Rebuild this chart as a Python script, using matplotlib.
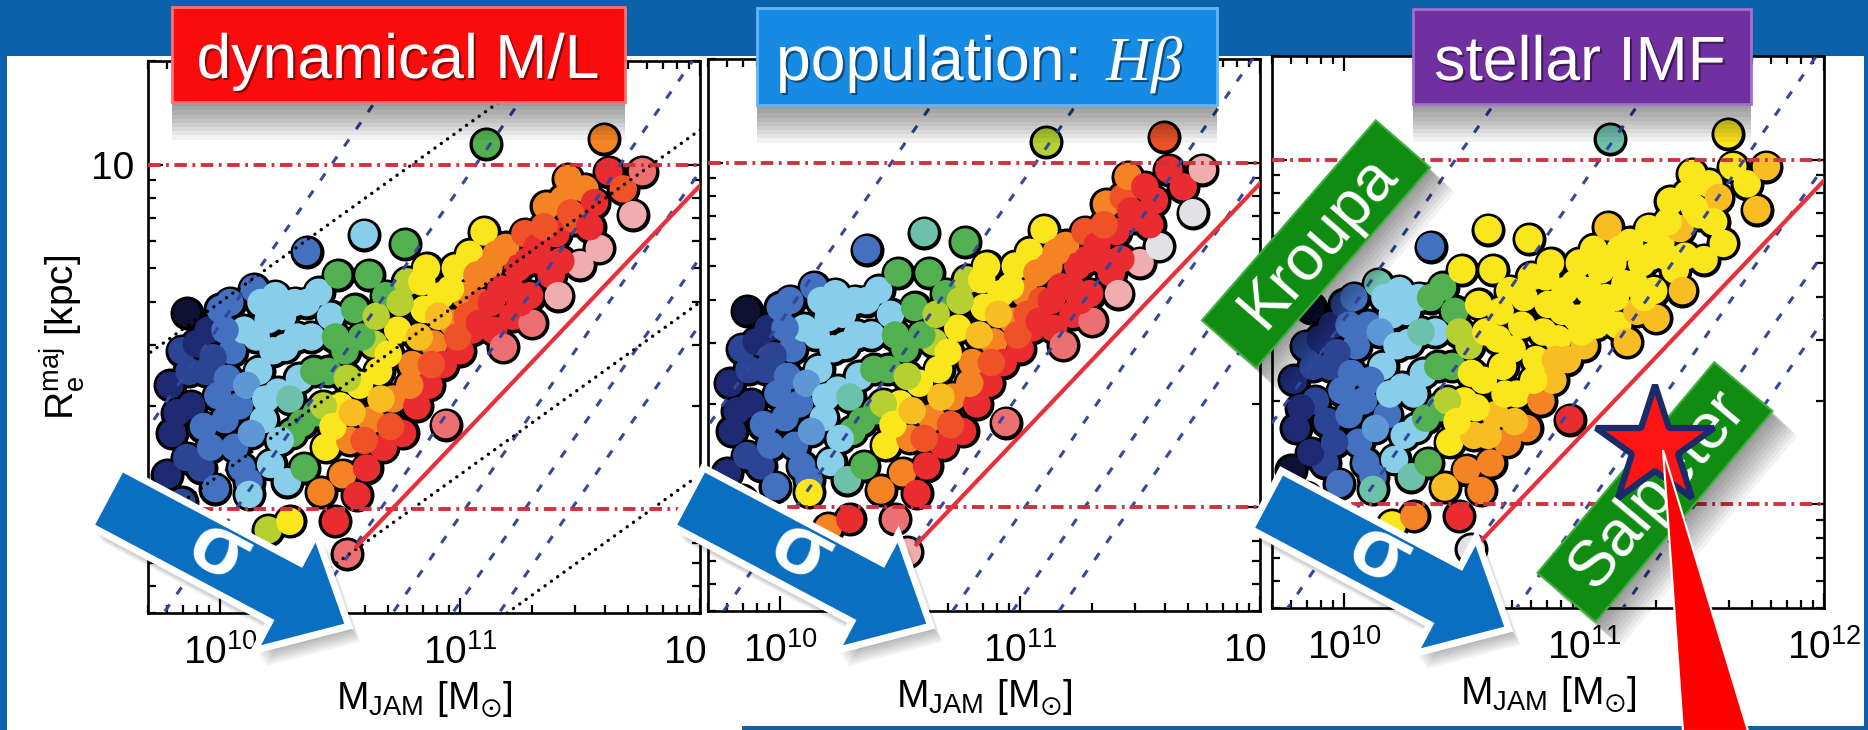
# ATLAS3D-style (M_JAM, R_e) plane, three panels + slide decorations
import numpy as np
import matplotlib
matplotlib.use("Agg")
import matplotlib.pyplot as plt
import matplotlib.patheffects as pe
from matplotlib.colors import LinearSegmentedColormap
from matplotlib.patches import Rectangle, Polygon
from matplotlib.ticker import FixedLocator, LogLocator, NullFormatter, FuncFormatter

plt.rcParams['font.family'] = ['Liberation Sans', 'DejaVu Sans']
plt.rcParams['lines.scale_dashes'] = False

# --------------------------------------------
# Galaxies: log10 M_JAM [Msun], log10 R_e^maj [kpc]
# --------------------------------------------
log_mass = [9.78, 9.80, 9.79, 9.84, 9.86, 9.84, 9.88, 9.92, 9.93, 9.94,
            9.95, 9.98, 9.99, 10.00, 10.04, 10.05, 10.06, 10.08, 10.10, 10.12,
            10.14, 10.16, 10.18, 10.20, 10.21, 10.23, 10.24, 10.27, 10.28, 10.30,
            10.31, 10.33, 10.35, 10.36, 10.38, 10.40, 10.41, 10.42, 10.44, 10.45,
            10.46, 10.49, 10.50, 10.51, 10.52, 10.54, 10.56, 10.57, 10.58, 10.60,
            10.61, 10.62, 10.63, 10.64, 10.66, 10.68, 10.69, 10.72, 10.74, 10.77,
            10.76, 10.78, 10.80, 10.82, 10.85, 10.86, 10.87, 10.89, 10.94, 10.92,
            10.93, 10.97, 10.98, 11.00, 11.02, 11.04, 11.05, 11.10, 11.11, 11.09,
            11.12, 11.14, 11.17, 11.19, 11.18, 11.22, 11.24, 11.27, 11.29, 11.30,
            11.32, 11.36, 11.38, 11.41, 11.40, 11.43, 11.45, 11.48, 11.50, 11.52,
            11.56, 11.58, 11.60, 11.62, 11.68, 11.72, 11.76, 10.12, 10.20, 10.29,
            10.48, 10.53,
            9.82, 9.87, 9.90, 9.86, 9.96, 9.97, 10.02, 10.03, 10.02, 10.09,
            10.11, 10.13, 10.15, 10.17, 10.19, 10.22, 10.25, 10.26, 10.29, 10.32,
            10.34, 10.36, 10.39, 10.43, 10.47, 10.48, 10.53, 10.55, 10.59, 10.60,
            10.65, 10.67, 10.70, 10.71, 10.75, 10.79, 10.83, 10.84, 10.88, 10.91,
            10.96, 10.99, 11.03, 11.07, 11.08, 11.13, 11.15, 11.21, 11.25, 11.28,
            11.34, 11.35, 11.42, 11.46, 11.54]
log_re = [0.10, 0.22, 0.36, 0.46, 0.57, 0.02, 0.30, 0.12, 0.24, 0.40,
          0.52, 0.06, 0.33, 0.58, 0.60, 0.46, 0.18, 0.30, 0.52, 0.08,
          0.64, 0.40, 0.26, 0.55, 0.13, 0.62, 0.34, 0.47, 0.08, 0.22,
          0.60, 0.38, 0.12, 0.748, 0.50, 0.28, 0.63, 0.05, 0.18, 0.40,
          0.56, 0.68, 0.30, 0.10, 0.46, 0.20, 0.58, 0.04, 0.36, 0.797,
          0.12, 0.68, 0.26, 0.48, 0.40, 0.18, 0.62, 0.32, 0.52, 0.77,
          0.22, 0.66, 0.42, 0.30, 0.58, 0.70, 0.36, 0.48, 0.246, 0.62,
          0.42, 0.54, 0.70, 0.46, 0.62, 0.74, 0.52, 0.805, 1.06, 0.60,
          0.70, 0.52, 0.64, 0.76, 0.47, 0.56, 0.70, 0.80, 0.62, 0.54,
          0.76, 0.88, 0.68, 0.62, 0.80, 0.90, 0.96, 0.84, 0.71, 0.93,
          0.89, 0.757, 1.075, 0.98, 0.93, 0.855, 0.98, 0.043, -0.06, -0.035,
          -0.035, -0.13,
          0.28, 0.40, 0.48, 0.15, 0.18, 0.44, 0.26, 0.38, 0.52, 0.12,
          0.36, 0.22, 0.50, 0.60, 0.32, 0.46, 0.20, 0.56, 0.32, 0.50,
          0.25, 0.60, 0.40, 0.30, 0.24, 0.50, 0.38, 0.28, 0.50, 0.20,
          0.56, 0.32, 0.45, 0.24, 0.60, 0.36, 0.50, 0.66, 0.42, 0.56,
          0.64, 0.50, 0.56, 0.68, 0.54, 0.60, 0.74, 0.64, 0.60, 0.72,
          0.72, 0.82, 0.72, 0.86, 0.82]

# colour-scale values (0..1)
ml_colour = [.09, .09, .09, .16, .02, .16, .09, .16, .24, .16,
             .09, .24, .24, .24, .24, .24, .24, .24, .36, .24,
             .24, .36, .36, .36, .36, .36, .36, .36, .36, .46,
             .36, .36, .46, .24, .36, .46, .36, .72, .61, .46,
             .36, .46, .61, .72, .46, .72, .46, .84, .61, .36,
             .84, .46, .72, .54, .61, .84, .46, .72, .61, .46,
             .84, .54, .72, .84, .61, .61, .84, .72, .90, .61,
             .84, .72, .61, .84, .72, .61, .84, .61, .46, .78,
             .72, .84, .84, .72, .90, .84, .84, .78, .84, .90,
             .84, .72, .84, .95, .84, .72, .72, .78, .95, .72,
             .84, .95, .72, .84, .78, .95, .90, .36, .54, .61,
             .84, .90,
             .09, .16, .09, .16, .24, .16, .24, .24, .24, .24,
             .30, .30, .36, .36, .36, .36, .36, .36, .41, .36,
             .46, .36, .46, .54, .61, .46, .54, .66, .46, .78,
             .54, .66, .61, .78, .54, .72, .66, .61, .78, .66,
             .61, .78, .78, .72, .84, .84, .72, .84, .84, .84,
             .84, .78, .84, .78, .84]
hbeta_colour = [.09, .09, .09, .16, .02, .16, .09, .16, .24, .16,
                .09, .24, .24, .24, .24, .24, .24, .24, .36, .24,
                .24, .36, .36, .36, .36, .36, .36, .36, .41, .46,
                .36, .36, .46, .24, .36, .46, .36, .72, .61, .46,
                .36, .46, .61, .72, .46, .72, .46, .84, .61, .41,
                .84, .46, .72, .54, .61, .84, .46, .72, .61, .46,
                .84, .54, .72, .84, .61, .61, .84, .72, .90, .61,
                .84, .72, .61, .84, .72, .61, .84, .61, .54, .78,
                .72, .84, .84, .72, .90, .84, .84, .78, .84, .90,
                .84, .72, .84, .95, .84, .78, .72, .84, .95, .84,
                .84, 1.0, .78, .84, .84, 1.0, .95, .61, .72, .84,
                .90, .95,
                .09, .16, .09, .16, .24, .16, .24, .24, .24, .24,
                .30, .30, .36, .36, .36, .36, .36, .36, .41, .36,
                .46, .36, .46, .54, .61, .46, .54, .66, .46, .78,
                .54, .66, .61, .78, .54, .72, .66, .61, .78, .66,
                .61, .78, .78, .72, .84, .84, .72, .84, .84, .84,
                .84, .78, .84, .84, .84]
imf_colour = [.02, .09, .09, .16, .02, .09, .16, .16, .16, .16,
              .09, .24, .24, .16, .24, .24, .24, .24, .24, .24,
              .41, .36, .24, .36, .36, .36, .36, .36, .41, .36,
              .36, .36, .46, .24, .36, .46, .46, .66, .61, .46,
              .46, .61, .61, .72, .54, .66, .61, .72, .61, .61,
              .72, .61, .66, .61, .61, .72, .61, .61, .61, .61,
              .72, .61, .61, .72, .61, .61, .66, .61, .84, .61,
              .66, .61, .61, .66, .61, .61, .61, .66, .41, .61,
              .61, .61, .61, .61, .66, .66, .61, .61, .61, .66,
              .61, .61, .61, .66, .66, .61, .61, .61, .61, .61,
              .66, .61, .61, .61, .61, .66, .66, .41, .61, .72,
              .84, 1.0,
              .09, .16, .09, .09, .16, .16, .24, .24, .24, .24,
              .24, .30, .30, .36, .36, .36, .36, .36, .36, .41,
              .46, .46, .46, .54, .61, .54, .61, .61, .61, .66,
              .61, .61, .61, .66, .61, .61, .61, .61, .66, .61,
              .61, .61, .61, .61, .61, .61, .61, .61, .61, .61,
              .61, .61, .61, .61, .61]
panel_colours = [ml_colour, hbeta_colour, imf_colour]

# reference lines
sigma_lines = [50, 100, 200, 300, 400, 500]        # km/s, M = 5 R sigma^2 / G
surf_lines = [1e8, 1e9, 1e10, 1e11]                # Msun/kpc^2, M = 2 pi Sigma R^2
zoe_mass = [3.7e10, 1e12]                          # zone of exclusion
zoe_re = [0.78, 8.7]
re_levels = [1, 10]
G = 4.3009e-6                                      # kpc (km/s)^2 / Msun

cmap = LinearSegmentedColormap.from_list('sauron_like', [
    (0.00, '#0a0a20'), (0.09, '#1d2a72'), (0.16, '#2c4696'), (0.24, '#4470c0'),
    (0.30, '#5f98d6'), (0.36, '#88cdea'), (0.41, '#6cc0a8'), (0.46, '#52b04e'),
    (0.54, '#b4d030'), (0.61, '#fae81c'), (0.66, '#f8bc22'), (0.72, '#f48424'),
    (0.78, '#ee5226'), (0.84, '#e8282c'), (0.90, '#ec6e70'), (0.95, '#f0aaaa'),
    (1.00, '#e2e2e6')])

W, H = 1868, 730
BLUE = '#0b62ab'
fig = plt.figure(figsize=(W / 100, H / 100), dpi=100, facecolor=BLUE)


def pixel_axes(z):
    a = fig.add_axes([0, 0, 1, 1], zorder=z)
    a.set_xlim(0, W)
    a.set_ylim(H, 0)
    a.axis('off')
    return a


bg = pixel_axes(0)
bg.add_patch(Rectangle((7, 56), 1857, 680, color='white', lw=0))
bg.add_patch(Rectangle((742, 726), 1126, 4, color=BLUE, lw=0))

# --------------------------------------------
# Panels
# --------------------------------------------
panel_px = [(148, 61), (708, 59), (1272, 56)]
size = 552
mass = 10 ** np.array(log_mass)
re = 10 ** np.array(log_re)

for i, (x0, y0) in enumerate(panel_px):
    ax = fig.add_axes([x0 / W, 1 - (y0 + size) / H, size / W, size / H], zorder=1 + i)
    ax.set_xscale('log')
    ax.set_yscale('log')

    ax.scatter(mass, re, s=600, c='black', linewidths=0, zorder=2)
    ax.scatter(mass, re, s=390, c=panel_colours[i], cmap=cmap, vmin=0, vmax=1,
               linewidths=0, zorder=2.1)

    rr = np.array([0.1, 100.0])
    for sig in sigma_lines:
        ax.plot(5 * sig ** 2 * rr / G, rr, color='#34479a', lw=2.2,
                dashes=(6, 9), zorder=3)
    if i == 0:
        for sd in surf_lines:
            ax.plot(2 * np.pi * sd * rr ** 2, rr, color='black', lw=2.4,
                    dashes=(0.1, 5.5), dash_capstyle='round', zorder=3)
    for lev in re_levels:
        ax.axhline(lev, color='#d2303e', lw=2.8, dashes=(9, 4, 2, 4), zorder=3)
    ax.plot(zoe_mass, zoe_re, color='#e8303a', lw=3, zorder=3)

    ax.set_xlim(5e9, 1e12)
    ax.set_ylim(0.5, 20)
    ax.xaxis.set_major_locator(FixedLocator([1e10, 1e11, 1e12]))
    ax.xaxis.set_minor_locator(LogLocator(base=10, subs=np.arange(2, 10), numticks=20))
    ax.xaxis.set_major_formatter(FuncFormatter(
        lambda v, p: r'$\mathregular{10^{%d}}$' % round(np.log10(v))))
    ax.xaxis.set_minor_formatter(NullFormatter())
    ax.yaxis.set_major_locator(FixedLocator([1, 10]))
    ax.yaxis.set_minor_locator(LogLocator(base=10, subs=np.arange(2, 10), numticks=20))
    ax.yaxis.set_minor_formatter(NullFormatter())
    if i == 0:
        ax.yaxis.set_major_formatter(FuncFormatter(lambda v, p: '%d' % v))
        ax.set_ylabel(r'$\mathregular{R_e^{maj}}$ [kpc]', fontsize=28, labelpad=3)
    else:
        ax.yaxis.set_major_formatter(NullFormatter())
    ax.tick_params(which='both', direction='in', top=True, right=True,
                   width=1.6, labelsize=28, colors='black')
    ax.tick_params(which='major', length=11)
    ax.tick_params(which='minor', length=6)
    ax.tick_params(axis='x', pad=15)
    ax.tick_params(axis='y', pad=10)
    for sp in ax.spines.values():
        sp.set_linewidth(1.9)
    ax.set_xlabel(r'$\mathregular{M_{JAM}\ [M_{\odot}]}$', fontsize=28, labelpad=6)

    # the next panel hides the exponent of the last tick label
    if i < 2:
        cov = pixel_axes(1.5 + i)
        nx = panel_px[i + 1][0]
        cov.add_patch(Rectangle((nx - 3, 620), 38, 60, color='white', lw=0))

# --------------------------------------------
# Slide decorations
# --------------------------------------------
ov = pixel_axes(10)


def soft_shadow(dx, dy, n=9, alpha=0.05):
    return [pe.SimplePatchShadow(offset=(dx * k, -dy * k), shadow_rgbFace='black',
                                 alpha=alpha) for k in range(1, n + 1)] + [pe.Normal()]


text_fx = [pe.withSimplePatchShadow(offset=(1.5, -1.5), shadow_rgbFace='black', alpha=0.45)]

# title boxes
boxes = [(172, 7, 625, 102, '#fa0c0c', '#ff7070'),
         (757, 8, 1217, 105, '#178be4', '#62b6f4'),
         (1413, 9, 1751, 104, '#7030a0', '#a070cc')]
for x0, y0, x1, y1, fc, ec in boxes:
    ov.add_patch(Rectangle((x0, y0), x1 - x0, y1 - y0, fc=fc, ec=ec, lw=2,
                           path_effects=soft_shadow(0, 3)))
ov.text(398, 78, 'dynamical M/L', color='white', fontsize=45, ha='center',
        va='baseline', path_effects=text_fx)
ov.text(776, 80, 'population: ', color='white', fontsize=45, ha='left',
        va='baseline', path_effects=text_fx)
ov.text(1106, 80, 'H\u03b2', color='white', fontsize=45, ha='left', va='baseline',
        family=['Liberation Serif', 'DejaVu Serif'], style='italic', path_effects=text_fx)
ov.text(1580, 80, 'stellar IMF', color='white', fontsize=45, ha='center',
        va='baseline', path_effects=text_fx)


def rot_box(cx, cy, length, width, angle):
    a = np.radians(angle)
    u = np.array([np.cos(a), -np.sin(a)])
    v = np.array([np.sin(a), np.cos(a)])
    c = np.array([cx, cy])
    return [c - u * length / 2 - v * width / 2, c + u * length / 2 - v * width / 2,
            c + u * length / 2 + v * width / 2, c - u * length / 2 + v * width / 2]


# IMF labels
for cx, cy, ln, wd, ang, label in [(1316, 244, 265, 72, 49, 'Kroupa'),
                                   (1655, 492, 275, 76, 50, 'Salpeter')]:
    ov.add_patch(Polygon(rot_box(cx, cy, ln, wd, ang), closed=True, fc='#108c12',
                         ec='#3fae3f', lw=1.5, path_effects=soft_shadow(2, 2)))
    ov.text(cx + 3, cy - 2, label, color='white', fontsize=46, rotation=ang,
            rotation_mode='anchor', ha='center', va='center')


def block_arrow(tx, ty, angle, length, shaft_w, head_w, head_l):
    a = np.radians(angle)
    u = np.array([np.cos(a), np.sin(a)])
    v = np.array([-np.sin(a), np.cos(a)])
    t = np.array([tx, ty])
    b = t + u * (length - head_l)
    return [t - v * shaft_w / 2, b - v * shaft_w / 2, b - v * head_w / 2,
            t + u * length, b + v * head_w / 2, b + v * shaft_w / 2, t + v * shaft_w / 2]


# sigma arrows
for tx, ty in [(106, 497), (688, 497), (1266, 500)]:
    ov.add_patch(Polygon(block_arrow(tx, ty, 28, 275, 66, 132, 72), closed=True,
                         fc='#0a6fc0', ec='white', lw=5, joinstyle='miter',
                         path_effects=soft_shadow(1.2, 1.6, n=7, alpha=0.05)))
    a = np.radians(28)
    ov.text(tx + 128 * np.cos(a), ty + 128 * np.sin(a) - 4, '\u03c3', color='white',
            fontsize=60, fontweight='bold', rotation=-28, rotation_mode='anchor',
            ha='center', va='center')

# Salpeter star with pointer
ov.plot([1655], [447], marker='*', ms=90, mfc='#ff1414', mec='#1b2a6b', mew=4.5,
        zorder=5)
ov.add_patch(Polygon([(1663, 450), (1683, 731), (1748, 731)], closed=True,
                     fc='#ff0000', ec='white', lw=1.5, zorder=6))

fig.savefig('out.png', dpi=100, facecolor=BLUE)
